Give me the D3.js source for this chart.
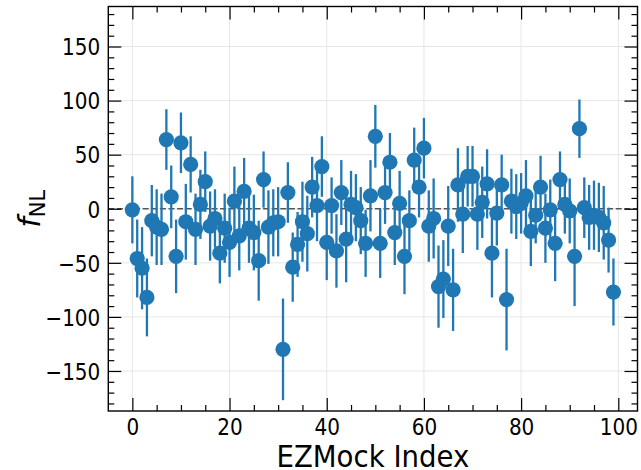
<!DOCTYPE html>
<html><head><meta charset="utf-8">
<script src="https://cdn.jsdelivr.net/npm/d3@7"></script>
<style>body{margin:0;background:#fff}svg{display:block}</style>
</head><body><svg id="c" width="641" height="470"></svg>
<script>
const indices = d3.range(100);
const fnl = [-1,-46,-55,-82,-11,-17,-19,64,11,-44,
  61,-12,41,-19,4,25,-16,-9,-41,-18,
  -31,7,-25,16,-18,-22,-48,27,-17,-13,
  -12,-130,15,-54,-33,-12,-23,20,3,39,
  -31,3,-39,15,-28,4,1,-11,-32,12,
  67,-32,15,43,-22,5,-44,-11,45,20,
  56,-16,-9,-72,-65,-16,-75,22,-5,30,
  30,-5,6,23,-41,-4,22,-84,7,2,
  5,12,-21,-6,20,-18,-1,-32,27,4,
  -2,-44,74,1,-8,-6,-8,-13,-29,-77];
const err = [31,36,38,36,33,35,33,28,29,34,
  28,35,26,33,32,28,32,27,28,32,
  32,32,32,31,32,35,37,26,34,31,
  32,47,28,32,30,37,35,28,33,28,
  35,26,34,30,40,31,31,31,31,33,
  29,32,29,27,30,30,35,28,30,28,
  28,33,37,38,36,37,38,34,36,28,
  28,33,33,32,41,30,28,47,30,30,
  28,33,32,26,29,32,28,35,26,27,
  30,46,27,28,30,32,32,34,30,31];
const xTicks = [0,20,40,60,80,100];
const yTicks = [-150,-100,-50,0,50,100,150];

const W=641,H=470, L=108.3, R=637.5, T=6.5, B=411;
const svg = d3.select('#c');
const x = d3.scaleLinear().domain([-4.95,103.95]).range([L,R]);
const y = d3.scaleLinear().domain([-187,187]).range([B,T]);
const blue = '#1f77b4';

// grid
const g = svg.append('g');
g.selectAll('.gx').data(xTicks).join('line').attr('x1',d=>x(d)).attr('x2',d=>x(d)).attr('y1',T).attr('y2',B)
  .attr('stroke','#e6e6e6').attr('stroke-width',1);
g.selectAll('.gy').data(yTicks).join('line').attr('y1',d=>y(d)).attr('y2',d=>y(d)).attr('x1',L).attr('x2',R)
  .attr('stroke','#e6e6e6').attr('stroke-width',1);

// zero line
svg.append('line').attr('x1',L).attr('x2',R).attr('y1',y(0)).attr('y2',y(0))
  .attr('stroke','#555').attr('stroke-width',1.6).attr('stroke-dasharray','6,2.6');

// error bars
const data = indices.map((i)=>({i, v:fnl[i], e:err[i]}));
svg.append('g').selectAll('line').data(data).join('line')
  .attr('x1',d=>x(d.i)).attr('x2',d=>x(d.i)).attr('y1',d=>y(d.v-d.e)).attr('y2',d=>y(d.v+d.e))
  .attr('stroke',blue).attr('stroke-width',2.3);
svg.append('g').selectAll('circle').data(data).join('circle')
  .attr('cx',d=>x(d.i)).attr('cy',d=>y(d.v)).attr('r',7.6).attr('fill',blue);

// axes
const font = 'DejaVu Sans, sans-serif';
function styleAxis(sel){
  sel.select('.domain').remove();
  sel.selectAll('.tick line').attr('stroke','#000').attr('stroke-width',1.2);
  sel.selectAll('.tick text').attr('font-family',font).attr('font-size',23).attr('fill','#000');
}
const xMinor = d3.range(-0,105,5).filter(v=>v%20!==0);
const yMinor = d3.range(-180,181,10).filter(v=>v%50!==0);
function addAxes(axisFn, scale, tr, majors, minors, labels){
  const a = svg.append('g').attr('transform',tr)
    .call(axisFn(scale).tickValues(majors).tickSizeInner(-13).tickSizeOuter(0).tickPadding(8)
      .tickFormat(labels? (d=>d<0? '\u2212'+Math.abs(d): ''+d) : ()=>''));
  styleAxis(a);
  const m = svg.append('g').attr('transform',tr)
    .call(axisFn(scale).tickValues(minors).tickSizeInner(-6).tickSizeOuter(0).tickFormat(()=>''));
  styleAxis(m);
  return a;
}
const ax = addAxes(d3.axisBottom, x, `translate(0,${B})`, xTicks, xMinor, true);
ax.selectAll('.tick text').attr('y',24.3).attr('dy',0).attr('transform','scale(0.87,1)');
addAxes(d3.axisTop, x, `translate(0,${T})`, xTicks, xMinor, false);
const ay = addAxes(d3.axisLeft, y, `translate(${L},0)`, yTicks, yMinor, true);
ay.selectAll('.tick text').attr('x',-9.2).attr('dy','0.36em').attr('transform','scale(0.87,1)');
addAxes(d3.axisRight, y, `translate(${R},0)`, yTicks, yMinor, false);

// frame
svg.append('rect').attr('x',L).attr('y',T).attr('width',R-L).attr('height',B-T)
  .attr('fill','none').attr('stroke','#000').attr('stroke-width',1.4);

// labels
svg.append('text').attr('transform',`translate(${(L+R)/2},466.5) scale(0.92,1)`).attr('text-anchor','middle')
  .attr('font-family',font).attr('font-size',30).text('EZMock Index');
const yl = svg.append('text').attr('transform',`translate(40,${y(0)}) rotate(-90)`).attr('text-anchor','middle')
  .attr('font-family',font).attr('font-size',30);
yl.append('tspan').attr('font-style','italic').text('f');
yl.append('tspan').attr('font-size',21).attr('dy',5).text('NL');
</script></body></html>
